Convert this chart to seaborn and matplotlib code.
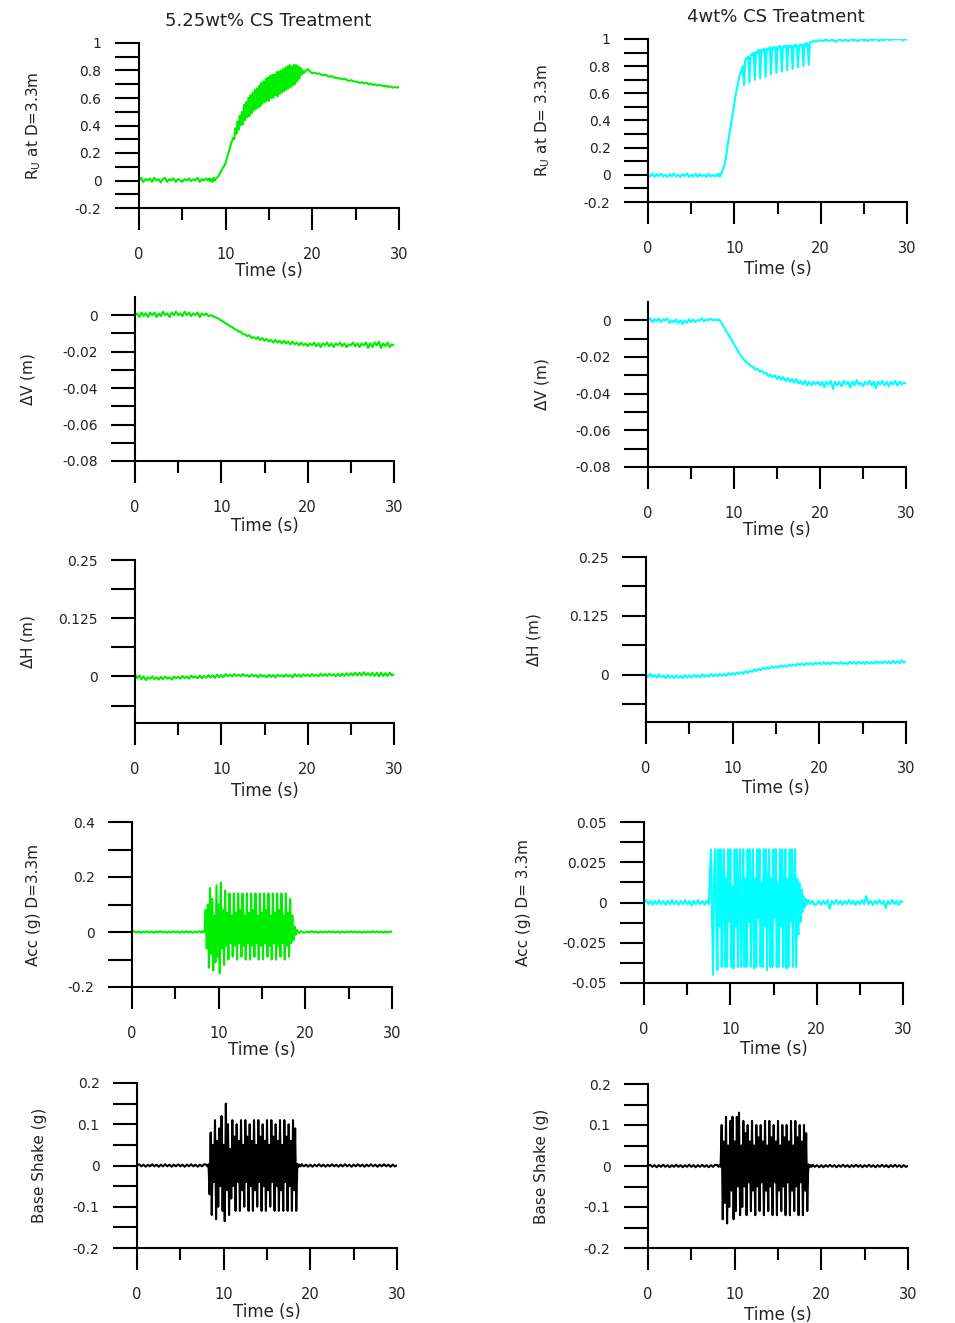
import numpy as np
import pandas as pd
import matplotlib
matplotlib.use("Agg")
import matplotlib.pyplot as plt
import seaborn as sns
from matplotlib.ticker import MultipleLocator, FixedLocator, FuncFormatter

# slow records: sampled every 0.25 s from 0 to 30 s (121 samples)
time_s = np.arange(121) * 0.25
# shaking records: 0.25 s, then 0.125 s while shaking (8-19 s), then 0.25 s again
time_dense = np.concatenate([np.arange(0, 8, 0.25), np.arange(8, 19, 0.125),
                             np.arange(19, 30.001, 0.25)])

# --- 5.25wt% CS treatment (left column) ---
ru_525 = [0.00, 0.02, -0.01, 0.01, 0.00, 0.015, -0.01, 0.02,
          0.00, 0.01, -0.015, 0.01, 0.02, -0.01, 0.01, 0.00,
          0.015, -0.01, 0.01, 0.00, -0.01, 0.01, 0.00, 0.015,
          -0.005, 0.01, 0.00, 0.02, -0.01, 0.01, 0.00, 0.015,
          # 8-19 s
          0.00, 0.015, -0.005, 0.01, -0.01, 0.02, 0.00, 0.015,
          0.02, 0.03, 0.04, 0.055, 0.07, 0.085, 0.10, 0.11,
          0.13, 0.16, 0.19, 0.21, 0.24, 0.27, 0.29, 0.31,
          0.30, 0.38, 0.34, 0.43, 0.37, 0.47, 0.40, 0.50,
          0.41, 0.55, 0.44, 0.57, 0.46, 0.60, 0.47, 0.62,
          0.49, 0.64, 0.51, 0.66, 0.52, 0.67, 0.53, 0.69,
          0.54, 0.71, 0.56, 0.72, 0.57, 0.74, 0.58, 0.75,
          0.58, 0.76, 0.60, 0.77, 0.60, 0.77, 0.62, 0.79,
          0.61, 0.79, 0.63, 0.80, 0.64, 0.81, 0.65, 0.82,
          0.66, 0.83, 0.67, 0.84, 0.68, 0.83, 0.69, 0.84,
          0.70, 0.84, 0.72, 0.83, 0.74, 0.82, 0.77, 0.80,
          # 19-30 s
          0.78, 0.80, 0.81, 0.79,
          0.78, 0.785, 0.775, 0.78, 0.77, 0.765, 0.77, 0.76,
          0.755, 0.76, 0.75, 0.745, 0.745, 0.74, 0.735, 0.74,
          0.73, 0.725, 0.73, 0.72, 0.72, 0.715, 0.71, 0.715,
          0.705, 0.71, 0.70, 0.705, 0.695, 0.70, 0.69, 0.695,
          0.69, 0.685, 0.69, 0.68, 0.685, 0.675, 0.68, 0.675,
          0.68]

dv_525 = [0.0, 0.001, -0.001, 0.0015, -0.0005, 0.001, -0.001, 0.0015,
          0.0, 0.0015, -0.001, 0.001, -0.0005, 0.002, 0.0, 0.001,
          -0.001, 0.0015, 0.0, 0.002, 0.0, 0.001, -0.0005, 0.002,
          0.0, 0.0015, -0.0005, 0.001, 0.0, 0.0015, -0.001, 0.001,
          0.0, 0.001, -0.0005, 0.0, -0.0005, -0.001, -0.0015, -0.002,
          -0.003, -0.0035, -0.0045, -0.005, -0.006, -0.0065, -0.0075, -0.008,
          -0.009, -0.009, -0.0105, -0.0105, -0.0115, -0.011, -0.0125, -0.012,
          -0.013, -0.012, -0.0135, -0.0125, -0.014, -0.013, -0.0145, -0.0135,
          -0.015, -0.0135, -0.015, -0.014, -0.0155, -0.014, -0.0155, -0.0145,
          -0.016, -0.0145, -0.016, -0.015, -0.0165, -0.015, -0.0165, -0.0155,
          -0.017, -0.0155, -0.0165, -0.015, -0.017, -0.0155, -0.0175, -0.0155,
          -0.0165, -0.015, -0.017, -0.0155, -0.0175, -0.0155, -0.0165, -0.015,
          -0.017, -0.0155, -0.0175, -0.016, -0.0165, -0.015, -0.017, -0.0155,
          -0.0175, -0.0155, -0.0165, -0.015, -0.018, -0.0155, -0.0175, -0.015,
          -0.0165, -0.0145, -0.018, -0.0155, -0.017, -0.015, -0.0175, -0.016,
          -0.0165]

dh_525 = [0.005, -0.004, 0.002, -0.006, 0.0, -0.008, -0.002, -0.005,
          0.0, -0.006, -0.002, -0.007, -0.001, -0.006, 0.0, -0.005,
          -0.002, -0.007, 0.0, -0.004, -0.001, -0.005, 0.001, -0.004,
          0.0, -0.005, 0.002, -0.003, 0.0, -0.004, 0.002, -0.004,
          0.001, -0.003, 0.003, -0.002, 0.002, -0.003, 0.004, -0.002,
          0.003, -0.002, 0.005, 0.0, 0.004, 0.0, 0.005, 0.001,
          0.004, 0.0, 0.005, 0.001, 0.003, -0.001, 0.004, 0.0,
          0.003, -0.002, 0.004, 0.0, 0.002, -0.002, 0.004, -0.001,
          0.003, -0.002, 0.004, 0.0, 0.003, -0.001, 0.004, 0.0,
          0.003, -0.002, 0.005, 0.0, 0.004, -0.001, 0.005, 0.001,
          0.004, 0.0, 0.005, 0.001, 0.004, 0.0, 0.006, 0.001,
          0.005, 0.001, 0.006, 0.002, 0.005, 0.0, 0.006, 0.001,
          0.006, 0.001, 0.007, 0.002, 0.007, 0.002, 0.008, 0.002,
          0.008, 0.002, 0.009, 0.003, 0.007, 0.002, 0.008, 0.001,
          0.008, 0.0, 0.008, 0.001, 0.007, 0.001, 0.008, 0.002,
          0.005]

acc_525 = [0.0, 0.003, -0.002, 0.002, -0.003, 0.002, -0.002, 0.003,
           -0.002, 0.002, -0.003, 0.002, -0.002, 0.003, -0.002, 0.002,
           -0.003, 0.002, -0.002, 0.003, -0.002, 0.002, -0.003, 0.002,
           -0.002, 0.003, -0.002, 0.002, -0.003, 0.002, -0.002, 0.003,
           # 8-19 s
           -0.002, 0.003, -0.002, 0.002, 0.08, -0.06, 0.10, -0.13,
           0.16, -0.08, 0.12, -0.14, 0.06, -0.11, 0.17, -0.09,
           0.10, -0.15, 0.18, -0.06, 0.08, -0.12, 0.15, -0.05,
           0.07, -0.10, 0.14, -0.04, 0.06, -0.09, 0.14, -0.05,
           0.07, -0.10, 0.14, -0.04, 0.08, -0.09, 0.14, -0.05,
           0.06, -0.10, 0.14, -0.04, 0.07, -0.10, 0.14, -0.05,
           0.08, -0.09, 0.14, -0.04, 0.06, -0.10, 0.14, -0.05,
           0.07, -0.10, 0.14, -0.04, 0.08, -0.09, 0.14, -0.05,
           0.06, -0.10, 0.14, -0.04, 0.07, -0.10, 0.14, -0.05,
           0.08, -0.09, 0.14, -0.04, 0.06, -0.10, 0.14, -0.05,
           0.07, -0.09, 0.12, -0.04, 0.06, -0.03, 0.02, -0.01,
           # 19-30 s
           0.008, -0.004, 0.003, -0.002,
           -0.002, 0.002, -0.002, 0.003, -0.002, 0.002, -0.003, 0.002,
           -0.002, 0.002, -0.002, 0.003, -0.002, 0.002, -0.002, 0.002,
           -0.003, 0.002, -0.002, 0.002, -0.002, 0.003, -0.002, 0.002,
           -0.002, 0.002, -0.003, 0.002, -0.002, 0.002, -0.002, 0.003,
           -0.002, 0.002, -0.002, 0.002, -0.003, 0.002, -0.002, 0.002,
           0.0]

base_525 = [0.0, 0.003, -0.002, 0.002, -0.003, 0.002, -0.002, 0.003,
            -0.002, 0.002, -0.003, 0.002, -0.002, 0.003, -0.002, 0.002,
            -0.003, 0.002, -0.002, 0.003, -0.002, 0.002, -0.003, 0.002,
            -0.002, 0.003, -0.002, 0.002, -0.003, 0.002, -0.002, 0.003,
            # 8-19 s
            0.002, -0.002, 0.003, -0.07, 0.08, -0.12, 0.05, -0.04,
            0.11, -0.13, 0.06, -0.10, 0.09, -0.05, 0.12, -0.11,
            0.05, -0.135, 0.15, -0.06, 0.10, -0.12, 0.04, -0.08,
            0.11, -0.05, 0.07, -0.11, 0.10, -0.04, 0.06, -0.11,
            0.11, -0.06, 0.05, -0.10, 0.11, -0.04, 0.07, -0.11,
            0.10, -0.05, 0.06, -0.11, 0.11, -0.06, 0.05, -0.10,
            0.11, -0.04, 0.07, -0.11, 0.10, -0.05, 0.06, -0.11,
            0.11, -0.06, 0.05, -0.10, 0.11, -0.04, 0.07, -0.11,
            0.10, -0.05, 0.06, -0.11, 0.11, -0.06, 0.05, -0.11,
            0.11, -0.04, 0.07, -0.11, 0.10, -0.05, 0.06, -0.11,
            0.11, -0.06, 0.09, -0.11, 0.004, -0.003, 0.002, -0.002,
            # 19-30 s
            0.003, -0.002, 0.002, -0.003,
            0.002, -0.003, 0.002, -0.002, 0.003, -0.002, 0.002, -0.003,
            0.002, -0.002, 0.003, -0.002, 0.002, -0.003, 0.002, -0.002,
            0.003, -0.002, 0.002, -0.003, 0.002, -0.002, 0.003, -0.002,
            0.002, -0.003, 0.002, -0.002, 0.003, -0.002, 0.002, -0.003,
            0.002, -0.002, 0.003, -0.002, 0.002, -0.003, 0.002, -0.002,
            0.0]

# --- 4wt% CS treatment (right column) ---
ru_4 = [0.00, -0.01, 0.01, -0.015, 0.005, -0.01, 0.01, -0.012,
        0.00, -0.015, 0.005, -0.01, 0.01, -0.012, 0.00, -0.015,
        0.005, -0.01, 0.01, -0.015, 0.00, -0.012, 0.008, -0.015,
        0.005, -0.01, 0.00, -0.015, 0.008, -0.012, 0.00, -0.01,
        # 8-19 s
        0.005, -0.01, 0.008, -0.012, 0.01, 0.03, 0.05, 0.08,
        0.12, 0.17, 0.23, 0.28, 0.33, 0.38, 0.43, 0.47,
        0.53, 0.58, 0.62, 0.66, 0.70, 0.73, 0.76, 0.78,
        0.80, 0.66, 0.84, 0.86, 0.85, 0.87, 0.68, 0.88,
        0.89, 0.88, 0.90, 0.70, 0.90, 0.91, 0.90, 0.92,
        0.71, 0.92, 0.91, 0.93, 0.92, 0.72, 0.93, 0.92,
        0.93, 0.94, 0.74, 0.93, 0.94, 0.93, 0.94, 0.75,
        0.94, 0.93, 0.95, 0.94, 0.76, 0.94, 0.95, 0.94,
        0.95, 0.77, 0.95, 0.94, 0.95, 0.95, 0.78, 0.95,
        0.94, 0.96, 0.95, 0.79, 0.95, 0.96, 0.95, 0.96,
        0.80, 0.96, 0.95, 0.97, 0.96, 0.81, 0.97, 0.98,
        # 19-30 s
        0.98, 0.985, 0.98, 0.99,
        0.99, 0.985, 0.995, 0.99, 0.985, 0.995, 0.99, 0.98,
        0.99, 1.0, 0.985, 0.995, 0.99, 0.985, 1.0, 0.99,
        0.995, 0.985, 0.99, 1.0, 0.99, 0.995, 0.985, 1.0,
        0.99, 1.0, 0.995, 0.985, 1.0, 0.99, 0.995, 1.005,
        0.99, 1.0, 0.995, 1.005, 0.995, 1.005, 0.99, 1.0,
        0.995]

dv_4 = [0.0, 0.001, -0.001, 0.0005, -0.0005, 0.001, -0.001, 0.0005,
        0.0, 0.001, -0.0015, 0.0, -0.001, 0.0005, -0.0015, 0.0,
        -0.002, 0.0, -0.0015, 0.0005, -0.001, 0.0005, -0.001, 0.0,
        0.0, 0.001, -0.0005, 0.0005, 0.0, 0.001, 0.0, 0.0005,
        0.0, 0.0005, -0.001, -0.003, -0.005, -0.007, -0.009, -0.011,
        -0.013, -0.015, -0.017, -0.019, -0.0205, -0.022, -0.023, -0.024,
        -0.025, -0.0255, -0.027, -0.0265, -0.028, -0.0275, -0.029, -0.0285,
        -0.0305, -0.0295, -0.031, -0.030, -0.032, -0.0305, -0.0325, -0.031,
        -0.033, -0.0315, -0.0335, -0.032, -0.034, -0.032, -0.0345, -0.033,
        -0.035, -0.033, -0.0355, -0.0335, -0.0355, -0.0335, -0.035, -0.0335,
        -0.0355, -0.0335, -0.0365, -0.0335, -0.035, -0.033, -0.0375, -0.0335,
        -0.0355, -0.0335, -0.036, -0.033, -0.035, -0.0335, -0.0365, -0.0335,
        -0.0355, -0.0325, -0.035, -0.034, -0.036, -0.0335, -0.035, -0.033,
        -0.0355, -0.0335, -0.037, -0.0335, -0.035, -0.033, -0.0355, -0.0335,
        -0.036, -0.0335, -0.035, -0.033, -0.0355, -0.0335, -0.035, -0.034,
        -0.0345]

dh_4 = [0.0, -0.004, 0.002, -0.005, 0.0, -0.006, 0.001, -0.005,
        -0.002, -0.007, 0.0, -0.006, -0.002, -0.007, -0.001, -0.006,
        -0.002, -0.007, 0.0, -0.006, -0.001, -0.006, 0.0, -0.005,
        -0.001, -0.005, 0.001, -0.004, 0.0, -0.004, 0.002, -0.003,
        0.001, -0.003, 0.002, -0.002, 0.002, -0.002, 0.004, 0.0,
        0.004, 0.0, 0.005, 0.002, 0.006, 0.002, 0.008, 0.004,
        0.009, 0.006, 0.012, 0.008, 0.013, 0.010, 0.015, 0.012,
        0.016, 0.013, 0.018, 0.015, 0.018, 0.015, 0.020, 0.017,
        0.020, 0.017, 0.022, 0.019, 0.022, 0.019, 0.024, 0.021,
        0.024, 0.020, 0.025, 0.022, 0.025, 0.021, 0.026, 0.023,
        0.026, 0.022, 0.027, 0.023, 0.026, 0.022, 0.027, 0.024,
        0.026, 0.023, 0.027, 0.023, 0.026, 0.022, 0.028, 0.024,
        0.027, 0.023, 0.028, 0.024, 0.027, 0.023, 0.028, 0.024,
        0.027, 0.024, 0.029, 0.025, 0.028, 0.024, 0.029, 0.025,
        0.028, 0.024, 0.030, 0.025, 0.029, 0.025, 0.031, 0.026,
        0.028]

acc_4 = [0.0, 0.0015, -0.001, 0.001, -0.0015, 0.001, -0.001, 0.0015,
         -0.001, 0.001, -0.0015, 0.001, -0.001, 0.0015, -0.001, 0.001,
         -0.0015, 0.001, -0.001, 0.0015, -0.001, 0.001, -0.002, 0.001,
         -0.001, 0.0015, -0.001, 0.001, -0.0015, 0.001, -0.001, 0.033,
         # 8-19 s
         -0.045, 0.02, 0.033, -0.01, -0.042, 0.033, -0.015, 0.033,
         -0.04, 0.01, 0.033, -0.04, 0.015, -0.04, 0.033, -0.012,
         0.033, -0.04, 0.01, -0.041, 0.033, -0.015, 0.033, -0.04,
         0.012, 0.033, -0.04, -0.01, 0.033, -0.04, 0.015, -0.04,
         0.033, -0.012, 0.033, -0.04, 0.01, 0.033, -0.041, 0.015,
         -0.04, 0.033, -0.01, 0.033, -0.04, 0.012, -0.04, 0.033,
         -0.015, 0.033, -0.042, 0.01, 0.033, -0.04, 0.015, -0.04,
         0.033, -0.01, 0.033, -0.04, 0.012, -0.04, 0.033, -0.015,
         0.033, -0.04, 0.01, 0.033, -0.041, 0.015, -0.04, 0.033,
         -0.012, 0.033, -0.04, 0.01, 0.033, -0.04, 0.015, -0.02,
         0.012, -0.012, 0.008, -0.006, 0.004, -0.003, 0.002, -0.001,
         # 19-30 s
         0.0015, -0.001, 0.001, -0.0015,
         -0.001, 0.001, -0.0015, 0.001, -0.001, 0.0015, -0.004, 0.001,
         -0.001, 0.0015, -0.001, 0.001, -0.0015, 0.001, -0.001, 0.0015,
         -0.001, 0.001, -0.0015, 0.001, -0.001, 0.0015, -0.001, 0.004,
         -0.001, 0.001, -0.0015, 0.001, -0.001, 0.0015, -0.001, 0.001,
         -0.0035, 0.001, -0.001, 0.0015, -0.001, 0.001, -0.0015, 0.001,
         0.0]

base_4 = [0.0, 0.003, -0.002, 0.002, -0.003, 0.002, -0.002, 0.003,
          -0.002, 0.002, -0.003, 0.002, -0.002, 0.003, -0.002, 0.002,
          -0.003, 0.002, -0.002, 0.003, -0.002, 0.002, -0.003, 0.002,
          -0.002, 0.003, -0.002, 0.002, -0.003, 0.002, -0.002, 0.003,
          # 8-19 s
          0.002, -0.002, 0.003, -0.002, 0.10, -0.13, 0.06, -0.09,
          0.12, -0.14, 0.05, -0.10, 0.11, -0.06, 0.12, -0.13,
          0.06, -0.11, 0.12, -0.05, 0.13, -0.12, 0.05, -0.10,
          0.11, -0.05, 0.08, -0.12, 0.10, -0.04, 0.06, -0.11,
          0.11, -0.06, 0.05, -0.12, 0.10, -0.05, 0.07, -0.11,
          0.10, -0.04, 0.06, -0.12, 0.11, -0.06, 0.05, -0.11,
          0.11, -0.05, 0.07, -0.12, 0.10, -0.04, 0.06, -0.12,
          0.11, -0.06, 0.05, -0.11, 0.10, -0.05, 0.07, -0.12,
          0.10, -0.04, 0.06, -0.12, 0.11, -0.06, 0.05, -0.11,
          0.11, -0.05, 0.07, -0.12, 0.10, -0.04, 0.06, -0.12,
          0.10, -0.06, 0.08, -0.11, 0.004, -0.003, 0.002, -0.002,
          # 19-30 s
          0.003, -0.002, 0.002, -0.003,
          0.002, -0.003, 0.002, -0.002, 0.003, -0.002, 0.002, -0.003,
          0.002, -0.002, 0.003, -0.002, 0.002, -0.003, 0.002, -0.002,
          0.003, -0.002, 0.002, -0.003, 0.002, -0.002, 0.003, -0.002,
          0.002, -0.003, 0.002, -0.002, 0.003, -0.002, 0.002, -0.003,
          0.002, -0.002, 0.003, -0.002, 0.002, -0.003, 0.002, -0.002,
          0.0]

titles = ["5.25wt% CS Treatment", "4wt% CS Treatment"]

sns.set_style("ticks")
plt.rcParams["font.family"] = ["DejaVu Sans"]
plt.rcParams["axes.unicode_minus"] = False

GREEN = "#00ee00"
CYAN = "#00ffff"
BLACK = "#000000"
TXT = "#222222"

W, H = 955, 1323
fig = plt.figure(figsize=(W / 100, H / 100), dpi=100)

# (time, values, color, ylabel, ylim, major step, minor ticks,
#  axes box in px (x0, x1, ytop, ybot), ylabel centre x px, xlabel offset px)
panels = [
    (time_dense, ru_525, GREEN, r"R$_\mathrm{U}$ at D=3.3m", (-0.2, 1), 0.2, 0.1,
     (139, 399, 43, 208), 34, 54),
    (time_dense, ru_4, CYAN, r"R$_\mathrm{U}$ at D= 3.3m", (-0.2, 1), 0.2, 0.1,
     (648, 907, 39, 202), 543, 58),
    (time_s, dv_525, GREEN, r"$\Delta$V (m)", (-0.08, 0.01), 0.02, [-0.07, -0.05, -0.03, -0.01],
     (135, 394, 297, 461), 28, 56),
    (time_s, dv_4, CYAN, r"$\Delta$V (m)", (-0.08, 0.01), 0.02, [-0.07, -0.05, -0.03, -0.01],
     (648, 906, 302, 467), 542, 54),
    (time_s, dh_525, GREEN, r"$\Delta$H (m)", (-0.1, 0.25), 0.125, 0.0625,
     (135, 394, 560, 723), 28, 59),
    (time_s, dh_4, CYAN, r"$\Delta$H (m)", (-0.1, 0.25), 0.125, 0.0625,
     (646, 906, 557, 722), 534, 57),
    (time_dense, acc_525, GREEN, "Acc (g) D=3.3m", (-0.2, 0.4), 0.2, 0.1,
     (132, 392, 822, 987), 34, 54),
    (time_dense, acc_4, CYAN, "Acc (g) D= 3.3m", (-0.05, 0.05), 0.025, 0.0125,
     (644, 903, 822, 983), 523, 57),
    (time_dense, base_525, BLACK, "Base Shake (g)", (-0.2, 0.2), 0.1, 0.05,
     (137, 397, 1083, 1248), 39, 55),
    (time_dense, base_4, BLACK, "Base Shake (g)", (-0.2, 0.2), 0.1, 0.05,
     (648, 908, 1084, 1248), 541, 58),
]


def fmt(v, pos):
    return f"{round(v, 6) + 0.0:g}"


for t, vals, color, ylab, ylim, major, minor, box, ylab_x, xlab_off in panels:
    x0, x1, ytop, ybot = box
    ax = fig.add_axes([x0 / W, 1 - ybot / H, (x1 - x0) / W, (ybot - ytop) / H])
    df = pd.DataFrame({"Time (s)": t, "value": vals})
    sns.lineplot(data=df, x="Time (s)", y="value", color=color, linewidth=1.5,
                 estimator=None, ax=ax)

    ax.set_xlim(0, 30)
    ax.set_ylim(*ylim)
    ax.xaxis.set_major_locator(MultipleLocator(10))
    ax.xaxis.set_minor_locator(MultipleLocator(5))
    ax.yaxis.set_major_locator(MultipleLocator(major))
    if isinstance(minor, list):
        ax.yaxis.set_minor_locator(FixedLocator(minor))
    else:
        ax.yaxis.set_minor_locator(MultipleLocator(minor))
    ax.xaxis.set_major_formatter(FuncFormatter(fmt))
    ax.yaxis.set_major_formatter(FuncFormatter(fmt))

    for side in ["top", "right"]:
        ax.spines[side].set_visible(False)
    for side in ["left", "bottom"]:
        ax.spines[side].set_linewidth(1.5)
        ax.spines[side].set_color("black")

    ax.tick_params(axis="y", which="both", direction="out", length=17, width=1.5,
                   pad=10, labelsize=10, labelcolor=TXT, color="black")
    ax.tick_params(axis="x", which="major", direction="out", length=16, width=1.5,
                   pad=12, labelsize=10.5, labelcolor=TXT, color="black")
    ax.tick_params(axis="x", which="minor", direction="out", length=8.5, width=1.5,
                   color="black")

    hpx = ybot - ytop
    wpx = x1 - x0
    ax.set_xlabel("Time (s)", fontsize=12, color=TXT)
    ax.xaxis.set_label_coords(0.5, -xlab_off / hpx)
    ax.set_ylabel(ylab, fontsize=11, color=TXT, va="center")
    ax.yaxis.set_label_coords((ylab_x - x0) / wpx, 0.5)
    ax.grid(False)

fig.text(268 / W, 1 - 21 / H, titles[0], ha="center", va="center", fontsize=13, color=TXT)
fig.text(776 / W, 1 - 17 / H, titles[1], ha="center", va="center", fontsize=13, color=TXT)

fig.savefig("out.png", dpi=100)
